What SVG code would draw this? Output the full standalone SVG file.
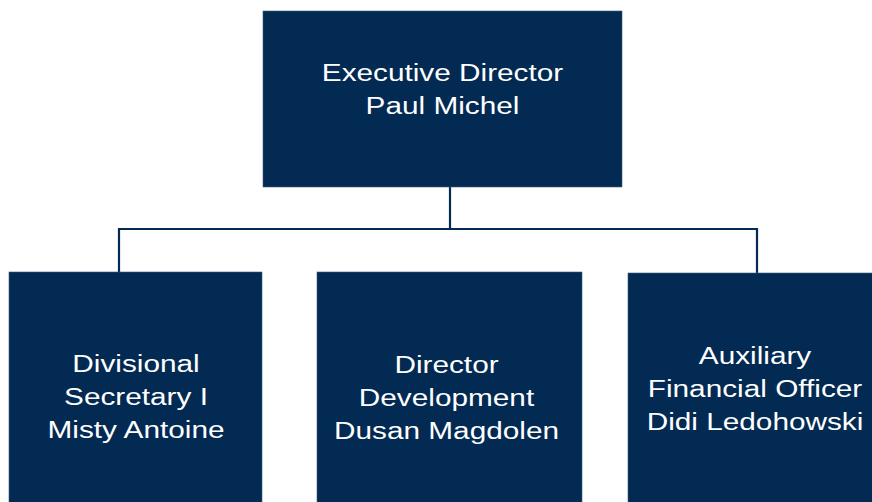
<svg xmlns="http://www.w3.org/2000/svg" width="872" height="502" viewBox="0 0 872 502">
<style>
.box{fill:#022a52;stroke:#3d5c7d;stroke-width:0.6}
.lbl{font-family:"Liberation Sans",Arial,sans-serif;font-size:24.5px;fill:#ffffff;text-anchor:middle}
.con{fill:none;stroke:#022a52;stroke-width:2.2}
</style>
<rect width="872" height="502" fill="#ffffff"/>
<g id="connectors">
<path class="con" d="M450 187 V229"/>
<path class="con" d="M119 272 V229 H757 V273"/>
</g>
<g id="exec">
<rect class="box" x="263" y="11" width="359" height="176"/>
<g transform="translate(442.5,0) scale(1.215,1)">
<text class="lbl" x="0" y="81">Executive Director</text>
<text class="lbl" x="0" y="114">Paul Michel</text>
</g>
</g>
<g id="secretary">
<rect class="box" x="9" y="272" width="253" height="240"/>
<g transform="translate(136,0) scale(1.215,1)">
<text class="lbl" x="0" y="372">Divisional</text>
<text class="lbl" x="0" y="405">Secretary I</text>
<text class="lbl" x="0" y="438">Misty Antoine</text>
</g>
</g>
<g id="development">
<rect class="box" x="317" y="272" width="265" height="240"/>
<g transform="translate(446.5,0) scale(1.215,1)">
<text class="lbl" x="0" y="373">Director</text>
<text class="lbl" x="0" y="406">Development</text>
<text class="lbl" x="0" y="439">Dusan Magdolen</text>
</g>
</g>
<g id="finance">
<rect class="box" x="628" y="273" width="260" height="240"/>
<g transform="translate(755,0) scale(1.215,1)">
<text class="lbl" x="0" y="364">Auxiliary</text>
<text class="lbl" x="0" y="397">Financial Officer</text>
<text class="lbl" x="0" y="430">Didi Ledohowski</text>
</g>
</g>
</svg>
